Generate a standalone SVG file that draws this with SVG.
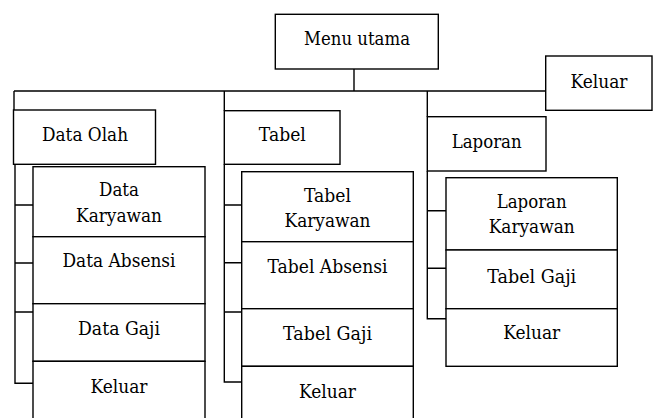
<svg xmlns="http://www.w3.org/2000/svg" width="657" height="418" viewBox="0 0 657 418">
<style>
rect{fill:#fff;stroke:#000;stroke-width:1.4}
.c{fill:none;stroke:#000;stroke-width:1.4}
text{fill:#000;text-anchor:middle}
</style>
<rect x="0" y="0" width="657" height="418" style="stroke:none"/>
<g id="connectors" class="c">
<path d="M354 69V91M14 91H545.7M14 91V110M224.3 91V110.7M427.3 91V116.7"/>
<path d="M15 164V383.3H33M15 205H33M15 263H33M15 312H33"/>
<path d="M224.3 164.3V382H241.7M224.3 205H241.7M224.3 262.7H241.7M224.3 312H241.7"/>
<path d="M427.3 171V318.7H446M427.3 210.7H446M427.3 268.3H446"/>
</g>
<g font-family="'DejaVu Serif', serif" font-size="19">
<g id="menu-utama"><rect x="275.3" y="14.3" width="163" height="54.7"/><text x="357" y="45" textLength="106" lengthAdjust="spacingAndGlyphs">Menu utama</text></g>
<g id="keluar-main"><rect x="545.7" y="56" width="106.3" height="54.3"/><text x="599" y="88.3" textLength="57" lengthAdjust="spacingAndGlyphs">Keluar</text></g>
<g id="data-olah"><rect x="13.5" y="110" width="142" height="54.3"/><text x="85" y="141" textLength="86" lengthAdjust="spacingAndGlyphs">Data Olah</text></g>
<g id="tabel"><rect x="224.3" y="110.7" width="115.7" height="53.6"/><text x="282.3" y="141" textLength="47" lengthAdjust="spacingAndGlyphs">Tabel</text></g>
<g id="laporan"><rect x="427.3" y="116.7" width="118.7" height="54.3"/><text x="486.7" y="147.5" textLength="70" lengthAdjust="spacingAndGlyphs">Laporan</text></g>
<g id="data-karyawan"><rect x="33" y="166.7" width="172" height="70"/><text x="119" y="196" textLength="40" lengthAdjust="spacingAndGlyphs">Data</text><text x="119" y="221.7" textLength="86" lengthAdjust="spacingAndGlyphs">Karyawan</text></g>
<g id="data-absensi"><rect x="33" y="236.7" width="172" height="67"/><text x="119" y="267" textLength="113" lengthAdjust="spacingAndGlyphs">Data Absensi</text></g>
<g id="data-gaji"><rect x="33" y="303.7" width="172" height="57.6"/><text x="119" y="335.3" textLength="82" lengthAdjust="spacingAndGlyphs">Data Gaji</text></g>
<g id="data-keluar"><rect x="33" y="361.3" width="172" height="70"/><text x="119" y="393" textLength="57" lengthAdjust="spacingAndGlyphs">Keluar</text></g>
<g id="tabel-karyawan"><rect x="241.7" y="171.7" width="171.6" height="70"/><text x="327.5" y="202.3" textLength="47" lengthAdjust="spacingAndGlyphs">Tabel</text><text x="327.5" y="227.3" textLength="86" lengthAdjust="spacingAndGlyphs">Karyawan</text></g>
<g id="tabel-absensi"><rect x="241.7" y="241.7" width="171.6" height="67"/><text x="327.5" y="272.5" textLength="120" lengthAdjust="spacingAndGlyphs">Tabel Absensi</text></g>
<g id="tabel-gaji"><rect x="241.7" y="308.7" width="171.6" height="57.6"/><text x="327.5" y="340.3" textLength="89" lengthAdjust="spacingAndGlyphs">Tabel Gaji</text></g>
<g id="tabel-keluar"><rect x="241.7" y="366.3" width="171.6" height="70"/><text x="327.5" y="398" textLength="57" lengthAdjust="spacingAndGlyphs">Keluar</text></g>
<g id="laporan-karyawan"><rect x="446" y="177.7" width="171.3" height="72.3"/><text x="531.7" y="208.3" textLength="70" lengthAdjust="spacingAndGlyphs">Laporan</text><text x="531.7" y="232.7" textLength="86" lengthAdjust="spacingAndGlyphs">Karyawan</text></g>
<g id="laporan-tabel-gaji"><rect x="446" y="250" width="171.3" height="58.7"/><text x="531.7" y="282.5" textLength="89" lengthAdjust="spacingAndGlyphs">Tabel Gaji</text></g>
<g id="laporan-keluar"><rect x="446" y="308.7" width="171.3" height="57.6"/><text x="531.7" y="339" textLength="57" lengthAdjust="spacingAndGlyphs">Keluar</text></g>
</g>
</svg>
